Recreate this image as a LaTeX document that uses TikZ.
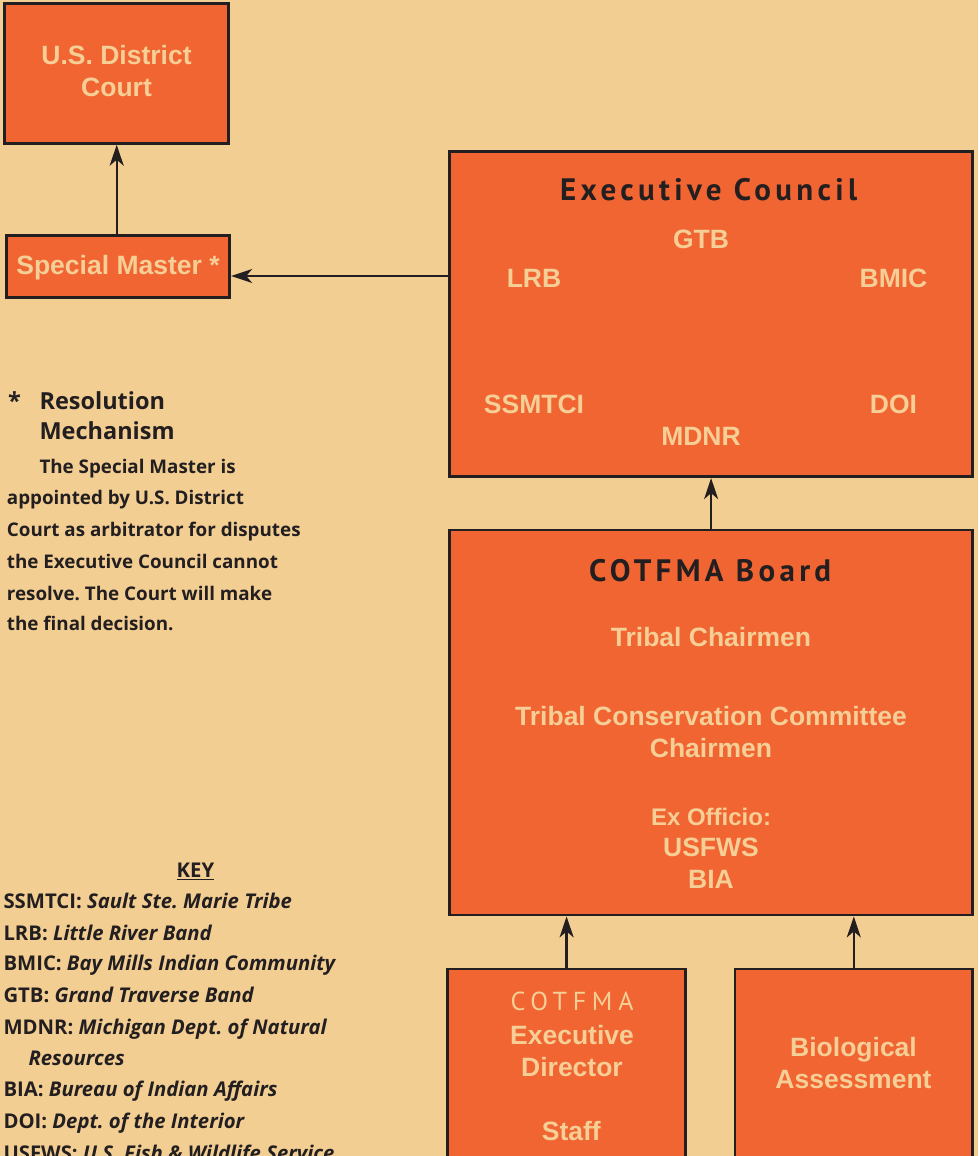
\documentclass[tikz,border=0pt]{standalone}
\usepackage{fontspec}
\setmainfont{Open Sans}
\newfontfamily\arialfont{Liberation Sans}
\newfontfamily\spacedfont{PT Sans}[LetterSpace=14]
\newfontfamily\widefont{PT Sans}[LetterSpace=22]
\usetikzlibrary{arrows.meta,positioning}
\frenchspacing

\definecolor{bgtan}{RGB}{243,206,147}
\definecolor{boxorange}{RGB}{241,101,51}
\definecolor{boxtan}{RGB}{245,207,150}
\definecolor{inkdark}{RGB}{35,31,32}

\tikzset{
  box/.style={draw=inkdark, fill=boxorange, line width=2.8pt, inner sep=0pt},
  boxtext/.style={text=boxtan, font=\arialfont\bfseries\fontsize{26.5}{31.5}\selectfont, inner sep=0pt, anchor=base},
  headtext/.style={text=inkdark, font=\spacedfont\bfseries\fontsize{31}{36}\selectfont, inner sep=0pt, anchor=base},
  notetext/.style={text=inkdark, font=\bfseries\fontsize{18.8}{31}\selectfont, inner sep=0pt, anchor=base west},
  notehead/.style={notetext, font=\bfseries\fontsize{23.5}{30}\selectfont},
  keytext/.style={notetext, font=\bfseries\fontsize{20.3}{31}\selectfont},
  link/.style={draw=inkdark, line width=2.4pt, -{Stealth[length=21pt,width=14pt,inset=6pt]}},
}

\begin{document}
\begin{tikzpicture}[x=1pt,y=-1pt]
            \useasboundingbox (0,0) rectangle (978,1156);
            \clip (0,0) rectangle (978,1156);
            \fill[bgtan] (0,0) rectangle (978,1156);

            \node[box, minimum width=224pt, minimum height=140pt] (court) at (116.7,73.3) {};
            \node[box, minimum width=223pt, minimum height=62pt] (special) at (118.3,266.8) {};
            \node[box, minimum width=523pt, minimum height=325pt] (council) at (711.1,314.2) {};
            \node[box, minimum width=523pt, minimum height=385pt] (board) at (711.1,722.5) {};
            \node[box, minimum width=238pt, minimum height=240pt] (director) at (566.6,1089) {};
            \node[box, minimum width=237.6pt, minimum height=240pt] (bio) at (853.8,1089) {};

            \node[boxtext] (court-a) at (116.5,64) {U.S. District};
            \node[boxtext] (court-b) at (116.5,96) {Court};
            \node[boxtext] (special-a) at (118,274) {Special Master *};

            \node[headtext] (council-head) at (708.7,200) {Executive Council};
            \foreach \nm/\xx/\yy in {GTB/701/248, LRB/534/287, BMIC/893.5/287, SSMTCI/534/413, DOI/893.5/413, MDNR/701/445}
                \node[boxtext] (\nm) at (\xx,\yy) {\nm};

            \node[headtext] (board-head) at (710.2,581.7) {COTFMA Board};
            \node[boxtext] (board-a) at (711,646) {Tribal Chairmen};
            \node[boxtext] (board-b) at (711,725.7) {Tribal Conservation Committee};
            \node[boxtext] (board-c) at (711,757.7) {Chairmen};
            \node[boxtext, font=\arialfont\bfseries\fontsize{24}{30}\selectfont] (board-d) at (711,825) {Ex Officio:};
            \node[boxtext] (board-e) at (711,856.7) {USFWS};
            \node[boxtext] (board-f) at (711,888.3) {BIA};

            \node[boxtext, font=\widefont\fontsize{26}{30}\selectfont] (director-a) at (572,1010) {COTFMA};
            \node[boxtext] (director-b) at (572,1044) {Executive};
            \node[boxtext] (director-c) at (572,1076) {Director};
            \node[boxtext] (director-d) at (571.3,1140) {Staff};
            \node[boxtext] (bio-a) at (853.5,1056.7) {Biological};
            \node[boxtext] (bio-b) at (853.5,1088.3) {Assessment};

            \coordinate (sm-in) at (230,276);
            \draw[link] (court.south |- special.north) -- (court.south);
            \draw[link] (council.west |- sm-in) -- (special.east |- sm-in);
            \draw[link] (board.north) -- (council.south);
            \draw[link] (director.north) -- (director.north |- board.south);
            \draw[link] (bio.north) -- (bio.north |- board.south);

            \node[notehead] (note-star) at (8,409.3) {*};
            \node[notehead] (note-head) at (39.3,409.3) {Resolution};
            \node[notehead] (note-head2) at (39.3,439.3) {Mechanism};
            \foreach \yy/\xx/\txt [count=\i] in {473.3/39.3/The Special Master is, 504/6.7/appointed by U.S. District,
                536/6.7/Court as arbitrator for disputes, 568.3/6.7/the Executive Council cannot,
                600/6.7/resolve. The Court will make, 630/6.7/the final decision.}
                \node[notetext] (note\i) at (\xx,\yy) {\txt};

            \node[keytext, anchor=base] (key-head) at (195.5,877.3) {\underline{KEY}};
            \foreach \yy/\ab/\desc [count=\i] in {908.3/SSMTCI/Sault Ste. Marie Tribe, 940/LRB/Little River Band,
                970.7/BMIC/Bay Mills Indian Community, 1002.7/GTB/Grand Traverse Band,
                1034.3/MDNR/Michigan Dept. of Natural, 1096.7/BIA/Bureau of Indian Affairs,
                1128.3/DOI/Dept. of the Interior, 1160/USFWS/U.S. Fish \& Wildlife Service}
                \node[keytext] (key\i) at (3.3,\yy) {\ab: \textit{\desc}};
            \node[keytext] (key-res) at (28.3,1065) {\textit{Resources}};
        \end{tikzpicture}
\end{document}
